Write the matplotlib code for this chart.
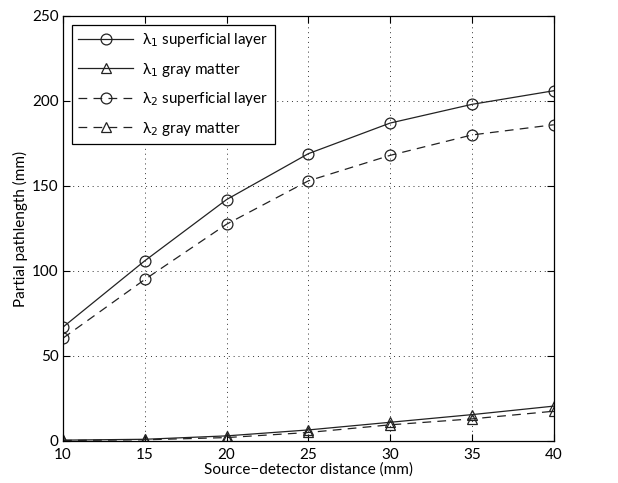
import matplotlib
matplotlib.use('Agg')
import matplotlib.pyplot as plt

plt.rcParams['font.family'] = ['Lato', 'DejaVu Sans']
plt.rcParams['mathtext.fontset'] = 'dejavusans'

distance = [10, 15, 20, 25, 30, 35, 40]
l1_superficial = [67, 106, 142, 169, 187, 198, 206]
l1_gray = [0.5, 1, 3, 6.5, 11, 15.5, 20.5]
l2_superficial = [60.5, 95, 127.5, 153, 168, 180, 186]
l2_gray = [0.3, 0.7, 2, 5, 9.5, 13, 17.5]

fig = plt.figure(figsize=(6.18, 4.83), dpi=100)
ax = fig.add_axes([0.102, 0.087, 0.794, 0.88])

ls_dash = (0, (7, 5))
kw = dict(color='#222222', lw=0.9, mfc='none', mec='#222222', mew=0.9, ms=7.8)
ax.plot(distance, l1_superficial, '-', marker='o', label='\u03bb$_1$ superficial layer', **kw)
ax.plot(distance, l1_gray, '-', marker='^', label='\u03bb$_1$ gray matter', **kw)
ax.plot(distance, l2_superficial, linestyle=ls_dash, marker='o', label='\u03bb$_2$ superficial layer', **kw)
ax.plot(distance, l2_gray, linestyle=ls_dash, marker='^', label='\u03bb$_2$ gray matter', **kw)

ax.set_xlim(10, 40)
ax.set_ylim(0, 250)
ax.set_xticks(distance)
ax.set_yticks([0, 50, 100, 150, 200, 250])
ax.grid(True, linestyle=(0, (1, 4)), color='#333333', lw=0.7)
ax.tick_params(direction='in', top=True, right=True, labelsize=11, length=5, width=0.8)
ax.tick_params(axis='x', pad=5)
ax.tick_params(axis='y', pad=3)
for s in ax.spines.values():
    s.set_linewidth(0.9)

ax.set_xlabel('Source\u2212detector distance (mm)', fontsize=11, labelpad=0)
ax.set_ylabel('Partial pathlength (mm)', fontsize=11, labelpad=3)

leg = ax.legend(loc='upper left', fontsize=11, fancybox=False, framealpha=1,
                edgecolor='black', handlelength=3.6, handletextpad=0.6,
                borderaxespad=0.6, labelspacing=0.75)
leg.get_frame().set_linewidth(0.9)

fig.savefig('out.png', dpi=100)
